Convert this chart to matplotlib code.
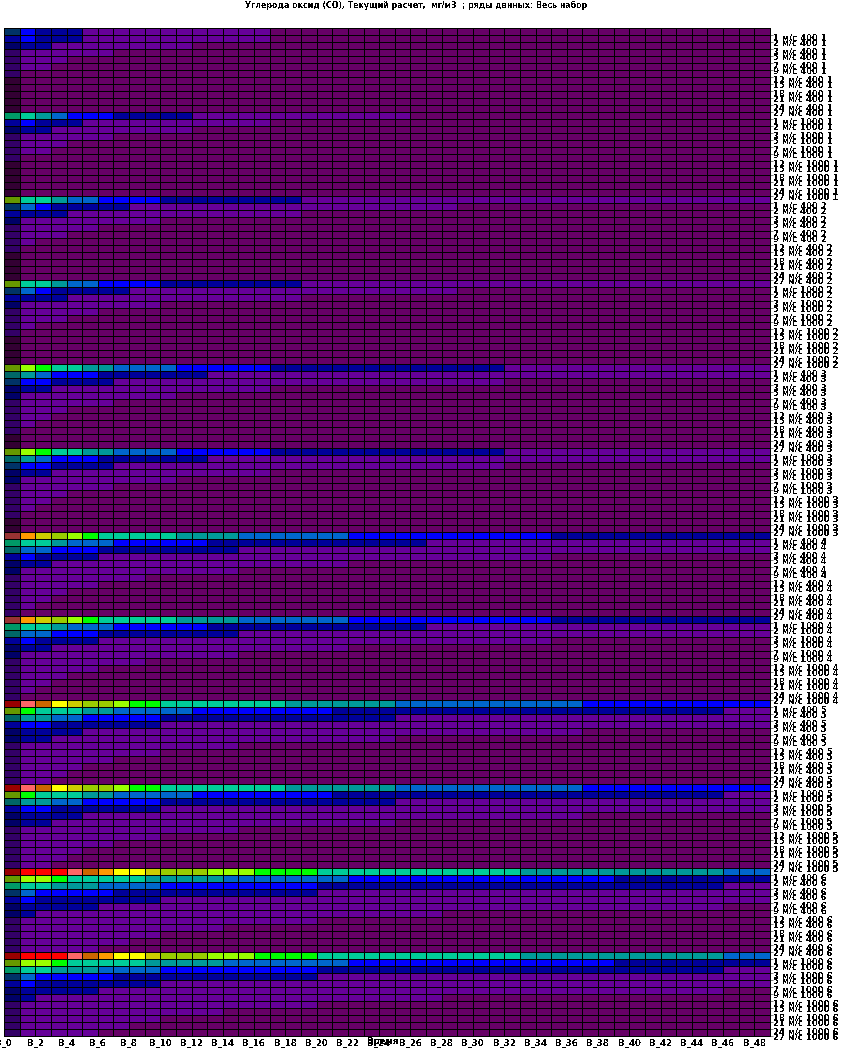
# ==========================================
# CO concentration table drawn as a heat map
# ==========================================

import numpy as np
import matplotlib
matplotlib.use("Agg")
import matplotlib.pyplot as plt
from matplotlib.colors import ListedColormap

plt.rcParams["font.family"] = "DejaVu Sans"
plt.rcParams["font.weight"] = "bold"
plt.rcParams["text.antialiased"] = False

# ==========================================
# DATA
# ==========================================

title = "Углерода оксид (CO), Текущий расчет,  мг/м3  ; ряды данных: Весь набор"
x_title = "Время"

speeds = [1, 2, 3, 5, 7, 9, 12, 15, 18, 21, 24, 27]
heights = [400, 1000]
series_numbers = [1, 2, 3, 4, 5, 6]

# class colours, low value to high value
class_colors = [
    "#660066", "#660099", "#000099", "#0000ff",
    "#0066cc", "#009999", "#00cc99", "#00ff00",
    "#99ff00", "#99cc00", "#cccc00", "#ffff00",
    "#ff9900", "#cc6600", "#ff6666", "#ff0000",
]

# the first column B_0 uses darker colours
first_col_colors = {
    "a": "#330033", "b": "#330066", "c": "#000066", "d": "#003366",
    "e": "#006666", "f": "#009966", "g": "#669900", "h": "#993333",
    "i": "#990000", "j": "#000099",
}

# each row: (class, number of cells) for columns B_1 ... B_48
set1_first = "djcbbbbaaaaa"
set1_rows = [
    [(3, 1), (2, 3), (1, 12), (0, 32)],
    [(3, 1), (2, 3), (1, 12), (0, 32)],
    [(2, 2), (1, 9), (0, 37)],
    [(1, 6), (0, 42)],
    [(1, 3), (0, 45)],
    [(1, 2), (0, 46)],
    [(0, 48)], [(0, 48)], [(0, 48)], [(0, 48)], [(0, 48)], [(0, 48)],
]

set2_first = "fjcbbbbaaaaa"
set2_rows = [
    [(6, 1), (5, 1), (4, 1), (3, 3), (2, 5), (1, 14), (0, 23)],
    [(3, 1), (2, 3), (1, 12), (0, 32)],
    [(2, 2), (1, 9), (0, 37)],
    [(1, 6), (0, 42)],
    [(1, 3), (0, 45)],
    [(1, 2), (0, 46)],
    [(0, 48)], [(0, 48)], [(0, 48)], [(0, 48)], [(0, 48)], [(0, 48)],
]

set3_first = "gdjcbbbbaaaa"
set3_rows = [
    [(6, 2), (5, 1), (4, 2), (3, 4), (2, 9), (1, 30)],
    [(4, 1), (3, 1), (2, 5), (1, 21), (0, 20)],
    [(2, 3), (1, 15), (0, 30)],
    [(1, 9), (0, 39)],
    [(1, 5), (0, 43)],
    [(1, 3), (0, 45)],
    [(1, 1), (0, 47)],
    [(0, 48)], [(0, 48)], [(0, 48)], [(0, 48)], [(0, 48)],
]

set4_first = "gedccbbbbbaa"
set4_rows = [
    [(8, 1), (7, 1), (6, 2), (5, 2), (4, 4), (3, 6), (2, 15), (1, 17)],
    [(5, 1), (4, 1), (3, 3), (2, 7), (1, 36)],
    [(3, 2), (2, 4), (1, 25), (0, 17)],
    [(2, 2), (1, 14), (0, 32)],
    [(1, 10), (0, 38)],
    [(1, 6), (0, 42)],
    [(1, 3), (0, 45)],
    [(1, 2), (0, 46)],
    [(1, 1), (0, 47)],
    [(0, 48)], [(0, 48)], [(0, 48)],
]

set5_first = "hfejccbbbbbb"
set5_rows = [
    [(12, 1), (10, 1), (9, 1), (8, 1), (7, 1), (6, 5), (5, 4), (4, 7), (3, 13), (2, 14)],
    [(6, 2), (5, 1), (4, 3), (3, 6), (2, 14), (1, 22)],
    [(4, 2), (3, 3), (2, 9), (1, 34)],
    [(3, 1), (2, 4), (1, 29), (0, 14)],
    [(2, 2), (1, 19), (0, 27)],
    [(1, 14), (0, 34)],
    [(1, 8), (0, 40)],
    [(1, 5), (0, 43)],
    [(1, 3), (0, 45)],
    [(1, 2), (0, 46)],
    [(1, 1), (0, 47)],
    [(0, 48)],
]

set6_first = "igejccbbbbbb"
set6_rows = [
    [(14, 1), (13, 1), (11, 1), (10, 1), (9, 2), (8, 1), (7, 2), (6, 8), (5, 7), (4, 12), (3, 12)],
    [(7, 1), (6, 3), (5, 2), (4, 5), (3, 9), (2, 25), (1, 3)],
    [(5, 2), (4, 2), (3, 5), (2, 15), (1, 24)],
    [(3, 2), (2, 7), (1, 39)],
    [(2, 4), (1, 32), (0, 12)],
    [(2, 2), (1, 22), (0, 24)],
    [(1, 14), (0, 34)],
    [(1, 9), (0, 39)],
    [(1, 6), (0, 42)],
    [(1, 4), (0, 44)],
    [(1, 3), (0, 45)],
    [(1, 2), (0, 46)],
]

set7_first = "igfdjccbbbbb"
set7_rows = [
    [(15, 3), (14, 1), (13, 1), (12, 1), (11, 2), (10, 1), (9, 3), (8, 3), (7, 4), (6, 13), (5, 13), (4, 3)],
    [(8, 2), (7, 1), (6, 5), (5, 5), (4, 8), (3, 17), (2, 10)],
    [(6, 2), (5, 3), (4, 4), (3, 10), (2, 26), (1, 3)],
    [(4, 1), (3, 5), (2, 13), (1, 29)],
    [(3, 1), (2, 8), (1, 39)],
    [(2, 5), (1, 40), (0, 3)],
    [(2, 1), (1, 26), (0, 21)],
    [(1, 19), (0, 29)],
    [(1, 13), (0, 35)],
    [(1, 9), (0, 39)],
    [(1, 7), (0, 41)],
    [(1, 5), (0, 43)],
]

# order of the 12 blocks from top to bottom
blocks = [
    (set1_first, set1_rows), (set2_first, set2_rows),
    (set3_first, set3_rows), (set3_first, set3_rows),
    (set4_first, set4_rows), (set4_first, set4_rows),
    (set5_first, set5_rows), (set5_first, set5_rows),
    (set6_first, set6_rows), (set6_first, set6_rows),
    (set7_first, set7_rows), (set7_first, set7_rows),
]

# ==========================================
# BUILD THE TABLE
# ==========================================

first_keys = list(first_col_colors.keys())
all_colors = class_colors + [first_col_colors[k] for k in first_keys]

table = []
for first, rows in blocks:
    for letter, row in zip(first, rows):
        cells = [len(class_colors) + first_keys.index(letter)]
        for level, count in row:
            cells.extend([level] * count)
        table.append(cells)
table = np.array(table)

row_labels = []
for number in series_numbers:
    for height in heights:
        for speed in speeds:
            row_labels.append(f"{speed} м/с {height} {number}")

col_numbers = list(range(0, 49, 2))
col_labels = [f"B_{n}" for n in col_numbers]

# ==========================================
# DRAW
# ==========================================

fig = plt.figure(figsize=(8.47, 10.5), dpi=100)
ax = fig.add_axes([4 / 847, 1 - 1036 / 1050, 766 / 847, 1008 / 1050])

ax.pcolormesh(
    table,
    cmap=ListedColormap(all_colors),
    vmin=-0.5,
    vmax=len(all_colors) - 0.5,
    edgecolors="black",
    linewidth=0.72,
    antialiased=False
)

ax.set_xlim(0, table.shape[1])
ax.set_ylim(table.shape[0], 0)

for side in ax.spines:
    ax.spines[side].set_linewidth(0.72)

ax.set_xticks(col_numbers)
ax.set_xticklabels(col_labels, fontsize=6.2)
ax.tick_params(axis="x", length=0, pad=1.8)

ax.yaxis.tick_right()
ax.set_yticks(np.arange(1, table.shape[0] + 1))
ax.set_yticklabels([])
ax.tick_params(axis="y", length=2.2, width=0.72, color="#808080")

# the row labels sit a little under their ticks, odd and even rows differently
for i, label in enumerate(row_labels):
    shift = 3 if i % 2 == 0 else 1
    ax.annotate(
        label,
        xy=(1, i + 1),
        xycoords=("axes fraction", "data"),
        xytext=(3, -shift),
        textcoords="offset pixels",
        va="center",
        ha="left",
        fontsize=6.1,
        annotation_clip=False
    )

fig.text(416 / 847, 1 - 5 / 1050, title, ha="center", va="center", fontsize=5.7)
fig.text(383 / 847, 1 - 1041 / 1050, x_title, ha="center", va="center", fontsize=6.2)

fig.savefig("out.png", dpi=100)
